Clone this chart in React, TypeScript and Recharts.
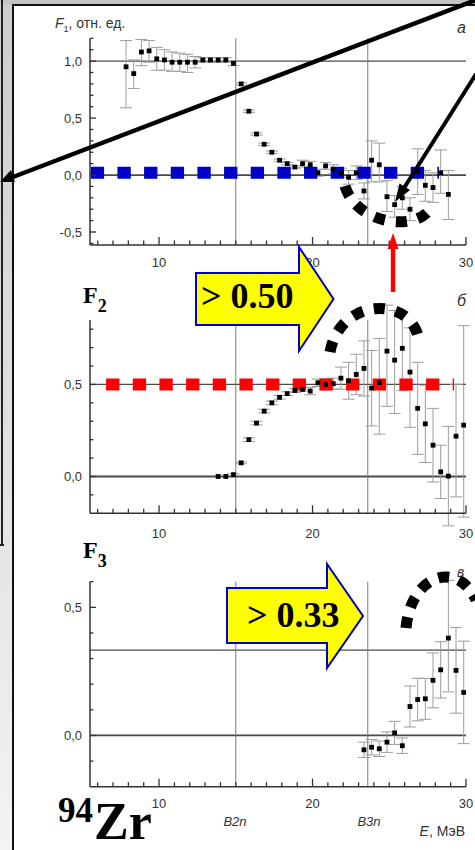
import React from 'react';
import { ScatterChart, Scatter, XAxis, YAxis, ErrorBar, ReferenceLine } from 'recharts';

// energies, MeV
const energyA = [7.85, 8.35, 8.85, 9.35, 9.85, 10.35, 10.85, 11.35, 11.85, 12.35, 12.85, 13.35, 13.85, 14.35, 14.85,
  15.35, 15.85, 16.35, 16.85, 17.35, 17.85, 18.35, 18.85, 19.35, 19.85, 20.35, 20.85, 21.35, 21.85, 22.35, 22.85,
  23.35, 23.85, 24.35, 24.85, 25.35, 25.85, 26.35, 26.85, 27.35, 27.85, 28.35, 28.85];
const f1Values = [0.95, 0.89, 1.08, 1.09, 1.02, 1.01, 0.99, 0.99, 0.99, 0.99, 1.01, 1.01, 1.01, 1.01, 0.98,
  0.80, 0.56, 0.36, 0.27, 0.20, 0.13, 0.10, 0.07, 0.10, 0.09, 0.02, 0.08, 0.05, 0.02, -0.02, 0.02,
  -0.14, 0.13, 0.09, -0.19, -0.26, -0.20, -0.30, 0.03, -0.09, -0.11, 0.02, -0.17];
// [lower, upper]
const f1Errors: (number | number[])[] = [[0.36, 0.23], [0.13, 0.12], [0.12, 0.11], [0.10, 0.09], 0.10, 0.09, [0.08, 0.09], 0.08, [0.09, 0.07], 0.05, 0.02, 0.02, 0.02, 0.02, 0.02,
  0.01, 0.01, 0.01, 0.01, 0.01, 0.01, 0.01, 0.01, 0.03, 0.03, 0.03, 0.03, 0.04, 0.04, 0.06, 0.06,
  0.07, [0.19, 0.17], [0.15, 0.19], [0.13, 0.14], [0.11, 0.08], 0.10, 0.10, 0.20, [0.14, 0.13], 0.13, [0.18, 0.20], [0.22, 0.21]];

const energyB = [13.85, 14.35, 14.85, 15.35, 15.85, 16.35, 16.85, 17.35, 17.85, 18.35, 18.85, 19.35, 19.85, 20.35, 20.85,
  21.35, 21.85, 22.35, 22.85, 23.35, 23.85, 24.35, 24.85, 25.35, 25.85, 26.35, 26.85, 27.35, 27.85, 28.35, 28.85, 29.35, 29.85];
const f2Values = [0.0, 0.0, 0.01, 0.074, 0.20, 0.29, 0.355, 0.40, 0.43, 0.45, 0.467, 0.473, 0.464, 0.509, 0.50,
  0.504, 0.534, 0.52, 0.554, 0.587, 0.48, 0.51, 0.681, 0.632, 0.696, 0.567, 0.37, 0.286, 0.17, 0.025, 0.002, 0.219, 0.279];
const f2Errors: (number | number[])[] = [0.005, 0.005, 0.005, 0.005, 0.01, 0.01, 0.01, 0.01, 0.01, 0.01, 0.01, 0.01, 0.02, 0.02, 0.03,
  0.03, 0.06, 0.10, 0.11, 0.15, 0.205, [0.28, 0.24], [0.30, 0.25], [0.29, 0.27], [0.23, 0.20], [0.30, 0.24], 0.25, 0.21, 0.20, 0.145, 0.27, [0.33, 0.28], [0.50, 0.54]];

const energyC = [23.35, 23.85, 24.35, 24.85, 25.35, 25.85, 26.35, 26.85, 27.35, 27.85, 28.35, 28.85, 29.35, 29.85];
const f3Values = [-0.056, -0.046, -0.052, -0.026, 0.01, -0.04, 0.113, 0.14, 0.143, 0.215, 0.256, 0.38, 0.254, 0.168];
const f3Errors: (number | number[])[] = [0.03, 0.03, 0.03, 0.04, 0.045, 0.03, 0.08, 0.083, 0.08, 0.107, 0.11, [0.21, 0.225], 0.167, 0.2];

const xTicks = [6, 7, 8, 9, 10, 11, 12, 13, 14, 15, 16, 17, 18, 19, 20, 21, 22, 23, 24, 25, 26, 27, 28, 29, 30];
const yTicksA = [-0.6, -0.5, -0.4, -0.3, -0.2, -0.1, 0, 0.1, 0.2, 0.3, 0.4, 0.5, 0.6, 0.7, 0.8, 0.9, 1.0, 1.1, 1.2];
const yLabelsA = [-0.5, 0, 0.5, 1.0];
const yTicksB = [-0.1, 0, 0.1, 0.2, 0.3, 0.4, 0.5, 0.6, 0.7, 0.8];
const yTicksC = [-0.1, 0, 0.1, 0.2, 0.3, 0.4, 0.5, 0.6];
const yLabelsBC = [0, 0.5];

const B2N = 15.0;
const B3N = 23.6;

const sans = '"Liberation Sans", Arial, sans-serif';
const serif = '"Liberation Serif", "Times New Roman", serif';

const toRows = (es: number[], fs: number[], errs: (number | number[])[]) =>
  es.map((e, i) => ({ e, f: fs[i], err: errs[i] }));

const fmt = (v: number) => v.toFixed(1).replace('.', ',');

const makeXTick = (labelDy: number) => (props: any) => {
  const { x, y, payload } = props;
  const v = payload.value;
  const major = v % 10 === 0;
  return (
    <g>
      <line x1={x} x2={x} y1={y} y2={y - (major ? 8 : 4.5)} stroke="#333" strokeWidth={1.3} />
      {major && (
        <text x={x} y={y + labelDy} textAnchor="middle" fontSize={13} fill="#333" fontFamily={sans}>{v}</text>
      )}
    </g>
  );
};

const makeYTick = (labels: number[]) => (props: any) => {
  const { x, y, payload } = props;
  const v = payload.value;
  const major = labels.some(l => Math.abs(l - v) < 1e-6);
  return (
    <g>
      <line x1={x} x2={x + (major ? 6 : 3.5)} y1={y} y2={y} stroke="#333" strokeWidth={1.3} />
      {major && (
        <text x={x - 8} y={y + 4.5} textAnchor="end" fontSize={13} fill="#333" fontFamily={sans}>{fmt(v)}</text>
      )}
    </g>
  );
};

const Square = (props: any) => {
  const { cx, cy } = props;
  if (cx == null || cy == null) return <g />;
  return <rect x={cx - 2.4} y={cy - 2.4} width={4.8} height={4.8} fill="#000" />;
};

interface PanelProps {
  top: number;
  height: number;
  margin: { top: number; right: number; bottom: number; left: number };
  data: { e: number; f: number; err: number | number[] }[];
  yDomain: number[];
  yTicks: number[];
  yLabels: number[];
  hLines: number[];
  labelDy: number;
  children?: React.ReactNode;
}

const Panel = ({ top, height, margin, data, yDomain, yTicks, yLabels, hLines, labelDy, children }: PanelProps) => (
  <div style={{ position: 'absolute', left: 0, top }}>
    <ScatterChart width={475} height={height} margin={margin}>
      <XAxis type="number" dataKey="e" domain={[5.5, 30]} ticks={xTicks} interval={0} allowDataOverflow
        tickSize={0} tickMargin={0} tickLine={false} tick={makeXTick(labelDy)} height={30}
        axisLine={{ stroke: '#333', strokeWidth: 1.5 }} />
      <YAxis type="number" dataKey="f" domain={yDomain} ticks={yTicks} interval={0} allowDataOverflow
        tickSize={0} tickMargin={0} tickLine={false} tick={makeYTick(yLabels)} width={40}
        axisLine={{ stroke: '#333', strokeWidth: 1.5 }} />
      {hLines.map((h, i) => (
        <ReferenceLine key={'h' + i} y={h} stroke="#4a4a4a" strokeWidth={h === 0 ? 1.8 : 1.2} />
      ))}
      <ReferenceLine x={B2N} stroke="#7a7a7a" strokeWidth={1} />
      <ReferenceLine x={B3N} stroke="#7a7a7a" strokeWidth={1} />
      <Scatter data={data} shape={Square} isAnimationActive={false}>
        <ErrorBar dataKey="err" direction="y" width={6} stroke="#9c9c9c" strokeWidth={1} isAnimationActive={false} />
      </Scatter>
      {children}
    </ScatterChart>
  </div>
);

const Overlay = () => (
  <svg width={475} height={850} style={{ position: 'absolute', left: 0, top: 0, pointerEvents: 'none' }}>
    {/* captions */}
    <text x={55} y={28} fontSize={14} fill="#333" fontFamily={sans}>
      <tspan fontStyle="italic">F</tspan>
      <tspan fontSize={9} dy={4}>1</tspan>
      <tspan dy={-4}>, отн. ед.</tspan>
    </text>
    <text x={457} y={33} fontSize={16} fill="#333" fontStyle="italic" fontFamily={sans}>а</text>
    <text x={457} y={306} fontSize={16} fill="#333" fontStyle="italic" fontFamily={sans}>б</text>
    <text x={457} y={577} fontSize={14} fill="#333" fontStyle="italic" fontFamily={sans}>в</text>
    <text x={235} y={826} fontSize={13} fill="#333" fontStyle="italic" textAnchor="middle" fontFamily={sans}>B2n</text>
    <text x={369} y={826} fontSize={13} fill="#333" fontStyle="italic" textAnchor="middle" fontFamily={sans}>B3n</text>
    <text x={465} y={836} fontSize={14} fill="#333" textAnchor="end" fontFamily={sans}>
      <tspan fontStyle="italic">E</tspan>, МэВ
    </text>

    {/* dotted arcs */}
    <path d="M 345 186 C 356 224, 415 232, 430 209" fill="none" stroke="#000" strokeWidth={11} strokeDasharray="11 11" />
    <path d="M 330 352 C 340 298, 408 296, 418 336" fill="none" stroke="#000" strokeWidth={11} strokeDasharray="11 11" />
    <path d="M 406 628 C 411 574, 458 560, 476 600" fill="none" stroke="#000" strokeWidth={11} strokeDasharray="11 10" />

    {/* yellow arrows */}
    <polygon points="196,273 299,273 299,247 333.5,299 299,351 299,325 196,325" fill="#ffff00" stroke="#0000cc" strokeWidth={2} />
    <text x={201} y={308} fontSize={36} fontWeight="bold" fontFamily={serif} fill="#000">&gt; 0.50</text>
    <polygon points="227,588 327,588 327,564 363,616 327,668 327,643 227,643" fill="#ffff00" stroke="#0000cc" strokeWidth={2} />
    <text x={247} y={627} fontSize={36} fontWeight="bold" fontFamily={serif} fill="#000">&gt; 0.33</text>

    {/* labels */}
    <text x={83} y={303} fontSize={24} fontWeight="bold" fontFamily={serif} fill="#000">
      F<tspan fontSize={18} dy={9}>2</tspan>
    </text>
    <text x={83} y={558} fontSize={24} fontWeight="bold" fontFamily={serif} fill="#000">
      F<tspan fontSize={18} dy={9}>3</tspan>
    </text>
    <text x={58} y={822} fontSize={35} fontWeight="bold" fontFamily={serif} fill="#000">94</text>
    <text x={94} y={839} fontSize={52} fontWeight="bold" fontFamily={serif} fill="#000">Zr</text>

    {/* black pointer lines */}
    <line x1={476} y1={0} x2={13} y2={177} stroke="#000" strokeWidth={4.5} />
    <polygon points="0,182 15,182 11,170" fill="#000" />
    <line x1={476} y1={74} x2={404} y2={188} stroke="#000" strokeWidth={4} />
    <polygon points="395,202 410,190 399.5,183.5" fill="#000" />

    {/* red arrow */}
    <rect x={390.8} y={248} width={4.5} height={44} fill="#ff0000" />
    <polygon points="393,233 387.5,249 398.5,249" fill="#ff0000" />
  </svg>
);

export default function App() {
  return (
    <div style={{ position: 'relative', width: 475, height: 850, overflow: 'hidden', background: '#ececec' }}>
      <style>{'body{margin:0}'}</style>
      <div style={{ position: 'absolute', left: 0, top: 0, width: 13, height: 850, background: 'linear-gradient(#cdcdcd, #f3f3f3)' }} />
      <div style={{ position: 'absolute', left: 0, top: 0, width: 475, height: 4, background: '#c4c4c4' }} />
      <div style={{ position: 'absolute', left: 1, top: 0, width: 2, height: 545, background: '#222' }} />
      <div style={{ position: 'absolute', left: 0, top: 544, width: 4, height: 2, background: '#222' }} />
      <div style={{ position: 'absolute', left: 12, top: 4, width: 463, height: 846, background: '#fff', borderLeft: '2px solid #111', borderTop: '2px solid #111', boxSizing: 'border-box' }} />

      <Panel top={0} height={280} margin={{ top: 38.3, right: 9, bottom: 5, left: 50 }}
        data={toRows(energyA, f1Values, f1Errors)} yDomain={[-0.614, 1.2]} yTicks={yTicksA} yLabels={yLabelsA}
        hLines={[1, 0]} labelDy={21.5}>
        <ReferenceLine segment={[{ x: 5.55, y: 0.02 }, { x: 28.24, y: 0.02 }]} stroke="#0000c8" strokeWidth={12} strokeDasharray="13.33 13.33" />
      </Panel>
      <Panel top={290} height={260} margin={{ top: 30, right: 9, bottom: 6.7, left: 50 }}
        data={toRows(energyB, f2Values, f2Errors)} yDomain={[-0.2, 0.85]} yTicks={yTicksB} yLabels={yLabelsBC}
        hLines={[0.5, 0]} labelDy={25}>
        <ReferenceLine segment={[{ x: 6.55, y: 0.5 }, { x: 29.22, y: 0.5 }]} stroke="#ff0000" strokeWidth={12} strokeDasharray="13.33 13.33" />
      </Panel>
      <Panel top={560} height={290} margin={{ top: 21.7, right: 9, bottom: 33.3, left: 50 }}
        data={toRows(energyC, f3Values, f3Errors)} yDomain={[-0.2, 0.6]} yTicks={yTicksC} yLabels={yLabelsBC}
        hLines={[0.333, 0]} labelDy={21.5} />

      <Overlay />
    </div>
  );
}
